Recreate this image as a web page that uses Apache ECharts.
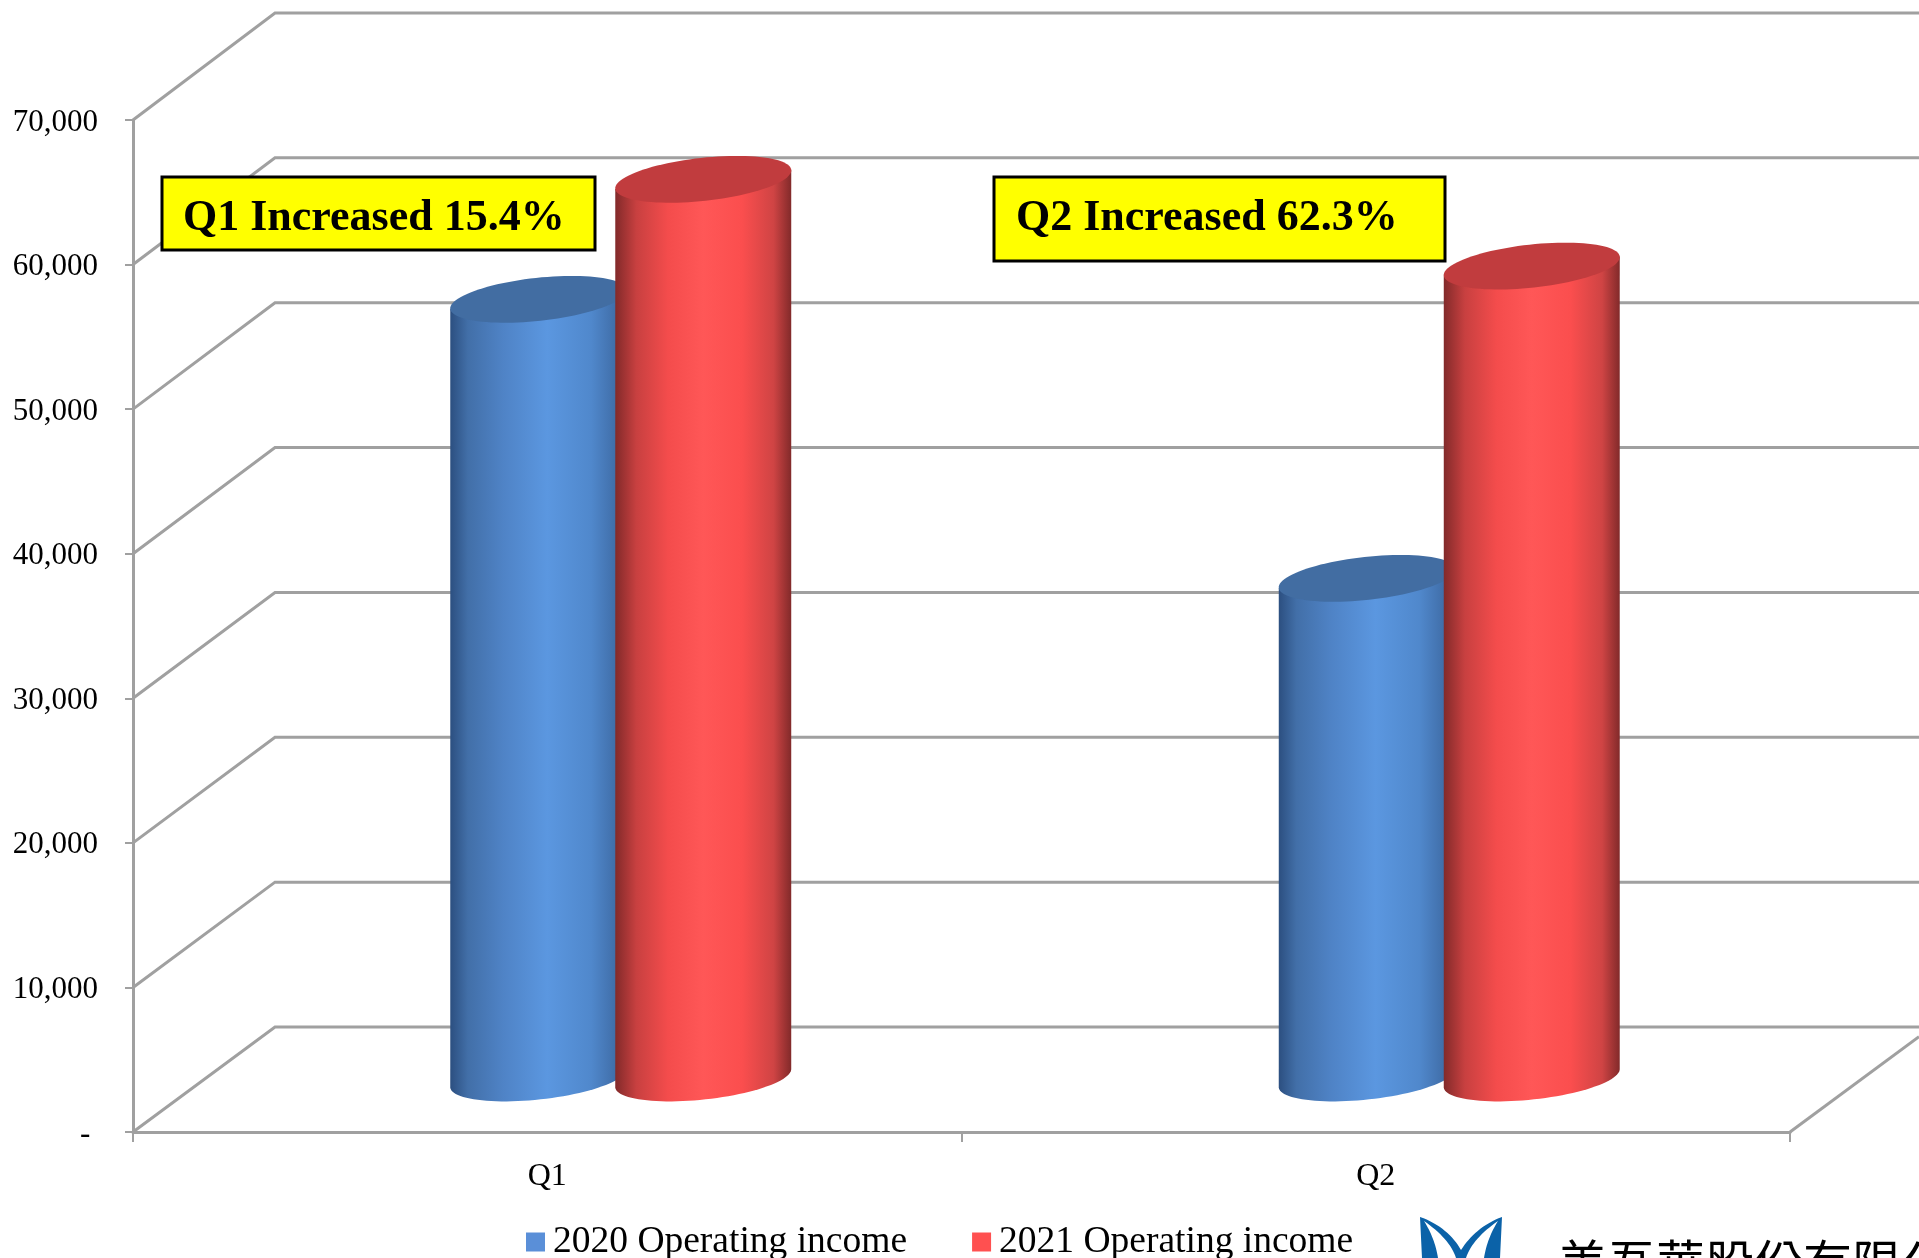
<!DOCTYPE html>
<html>
<head>
<meta charset="utf-8">
<style>html,body{margin:0;padding:0;background:#fff;overflow:hidden}#c{width:1919px;height:1258px}</style>
<script src="https://cdn.jsdelivr.net/npm/echarts@6/dist/echarts.min.js"></script>
</head>
<body>
<div id="c"></div>
<script>
const categories = ['Q1', 'Q2'];
const seriesNames = ['2020 Operating income', '2021 Operating income'];
const values2020 = [54000, 34700];
const values2021 = [62300, 56300];
const yTicks = [0, 10000, 20000, 30000, 40000, 50000, 60000, 70000];
const calloutLabels = ['Q1 Increased 15.4%', 'Q2 Increased 62.3%'];
const companyName = '美吾華股份有限公司';

const LINE = '#a0a0a0', SERIF = '"Liberation Serif", serif';
const DEPTH_X = 142, DEPTH_Y = 105, MID_X = 73.5, MID_Y = 52, BASE_Y = 54, HALF_GAP = 82.5;
const RADIUS = 88.5, MINOR = 21.5, TILT = 6.2 * Math.PI / 180;

function ellipsePoint(cx, cy, t) {
  const ca = RADIUS * Math.cos(t), cb = MINOR * Math.sin(t);
  return [cx + ca * Math.cos(TILT) + cb * Math.sin(TILT), cy - ca * Math.sin(TILT) + cb * Math.cos(TILT)];
}

function cylinder(side, body, top) {
  return function (params, api) {
    const base = api.coord([api.value(0), 0]);
    const head = api.coord([api.value(0), api.value(1)]);
    const cx = base[0] + MID_X + side * HALF_GAP;
    const by = base[1] - BASE_Y, ty = head[1] - MID_Y;
    const pts = [ellipsePoint(cx, ty, Math.PI)];
    for (let i = 0; i <= 48; i++) pts.push(ellipsePoint(cx, by, Math.PI - Math.PI * i / 48));
    pts.push(ellipsePoint(cx, ty, 0));
    const cap = [];
    for (let i = 0; i < 96; i++) cap.push(ellipsePoint(cx, ty, 2 * Math.PI * i / 96));
    return {
      type: 'group',
      children: [
        { type: 'polygon', shape: { points: pts }, style: { fill: { type: 'linear', x: 0, y: 0, x2: 1, y2: 0, colorStops: body } } },
        { type: 'polygon', shape: { points: cap }, style: { fill: top } }
      ]
    };
  };
}

const blueBody = [
  { offset: 0, color: '#2c4f80' }, { offset: 0.1, color: '#426fa8' }, { offset: 0.3, color: '#4f83c6' },
  { offset: 0.55, color: '#5b97e0' }, { offset: 0.8, color: '#5088cc' }, { offset: 0.95, color: '#3f6ca6' }, { offset: 1, color: '#335a8c' }
];
const redBody = [
  { offset: 0, color: '#822a2a' }, { offset: 0.12, color: '#c84040' }, { offset: 0.3, color: '#f44c4c' },
  { offset: 0.5, color: '#ff5757' }, { offset: 0.72, color: '#fb4e4e' }, { offset: 0.9, color: '#cf4444' }, { offset: 1, color: '#822a2a' }
];

function wallLine(params, api) {
  const v = api.value(0);
  const p = api.coord([0, v]);
  const fx = params.coordSys.x, by = p[1] - DEPTH_Y - 2 * v / 70000;
  const rightEnd = params.coordSys.x + params.coordSys.width;
  const children = [{
    type: 'polyline',
    shape: { points: [[fx, p[1]], [fx + DEPTH_X, by], [api.getWidth(), by]] },
    style: { stroke: LINE, lineWidth: 3, fill: null }
  }];
  if (v === 0) {
    const run = api.getWidth() - rightEnd;
    children.push({
      type: 'line',
      shape: { x1: rightEnd, y1: p[1], x2: api.getWidth(), y2: p[1] - run * DEPTH_Y / DEPTH_X },
      style: { stroke: LINE, lineWidth: 3 }
    });
  }
  return { type: 'group', children };
}

function callout(x, y, w, h, label, tx) {
  return [
    { type: 'rect', z: 20, shape: { x: x, y: y, width: w, height: h }, style: { fill: '#ffff00', stroke: '#000', lineWidth: 3 } },
    { type: 'text', z: 21, x: tx, y: 219, style: { text: label, fill: '#000', font: 'bold 44px ' + SERIF, verticalAlign: 'middle' } }
  ];
}

/* logo outline: sampled cubic segments */
function curve(p0, p1, p2, p3) {
  const out = [];
  for (let i = 0; i <= 16; i++) {
    const t = i / 16, u = 1 - t;
    out.push([
      u*u*u*p0[0] + 3*u*u*t*p1[0] + 3*u*t*t*p2[0] + t*t*t*p3[0],
      u*u*u*p0[1] + 3*u*u*t*p1[1] + 3*u*t*t*p2[1] + t*t*t*p3[1]
    ]);
  }
  return out;
}
const logoBlue = [
  ...curve([1420,1217],[1440,1224],[1453,1236],[1461,1250]),
  ...curve([1461,1250],[1470,1236],[1483,1224],[1502,1217]),
  [1500,1258],[1422,1258]
];
const leafLeft = [
  ...curve([1424,1221],[1440,1232],[1452,1245],[1456,1258]),
  ...curve([1438,1258],[1436,1245],[1431,1232],[1424,1221])
];
const leafRight = leafLeft.map(p => [2922 - p[0], p[1]]);

const chart = echarts.init(document.getElementById('c'), null, { renderer: 'canvas', width: 1919, height: 1258 });
chart.setOption({
  animation: false,
  backgroundColor: '#fff',
  grid: { left: 133, top: 120, width: 1657, height: 1012, containLabel: false },
  legend: {
    left: 521, top: 1218, icon: 'rect', itemWidth: 19, itemHeight: 19, itemGap: 65,
    textStyle: { fontFamily: SERIF, fontSize: 37.5, color: '#000', padding: [0, 0, 0, 3] },
    data: seriesNames
  },
  xAxis: {
    type: 'category', data: categories,
    axisLine: { lineStyle: { color: LINE, width: 3 } },
    axisTick: { show: true, length: 10, lineStyle: { color: LINE, width: 2 } },
    axisLabel: { color: '#000', fontFamily: SERIF, fontSize: 32, margin: 29 },
    splitLine: { show: false }
  },
  yAxis: {
    type: 'value', min: 0, max: 70000, interval: 10000,
    axisLine: { show: true, lineStyle: { color: LINE, width: 3 } },
    axisTick: { show: true, length: 8, lineStyle: { color: LINE, width: 2 } },
    axisLabel: {
      color: '#000', fontFamily: SERIF, fontSize: 31, margin: 35, verticalAlign: 'top', padding: [-13, 0, 0, 0],
      formatter: v => v === 0 ? '- ' : v.toLocaleString('en-US')
    },
    splitLine: { show: false }
  },
  series: [
    { type: 'custom', name: 'walls', z: 1, silent: true, clip: false, renderItem: wallLine,
      encode: { y: 0 }, data: yTicks.map(v => [v]) },
    { type: 'custom', name: seriesNames[0], z: 2, clip: false, itemStyle: { color: '#5a8fd8' },
      renderItem: cylinder(-1, blueBody, '#426da2'), encode: { x: 0, y: 1 },
      data: values2020.map((v, i) => [i, v]) },
    { type: 'custom', name: seriesNames[1], z: 3, clip: false, itemStyle: { color: '#ff5050' },
      renderItem: cylinder(1, redBody, '#c13c3e'), encode: { x: 0, y: 1 },
      data: values2021.map((v, i) => [i, v]) }
  ],
  graphic: [
    ...callout(162, 177, 433, 73, calloutLabels[0], 183),
    ...callout(994, 177, 451, 84, calloutLabels[1], 1016),
    { type: 'polygon', z: 20, shape: { points: logoBlue }, style: { fill: '#0b62a8' } },
    { type: 'polygon', z: 21, shape: { points: leafLeft }, style: { fill: '#fff' } },
    { type: 'polygon', z: 21, shape: { points: leafRight }, style: { fill: '#fff' } },
    { type: 'text', z: 20, x: 1558, y: 1238, style: { text: companyName, fill: '#000', font: '49px "Noto Sans CJK TC"', verticalAlign: 'top' } }
  ]
});
</script>
</body>
</html>
